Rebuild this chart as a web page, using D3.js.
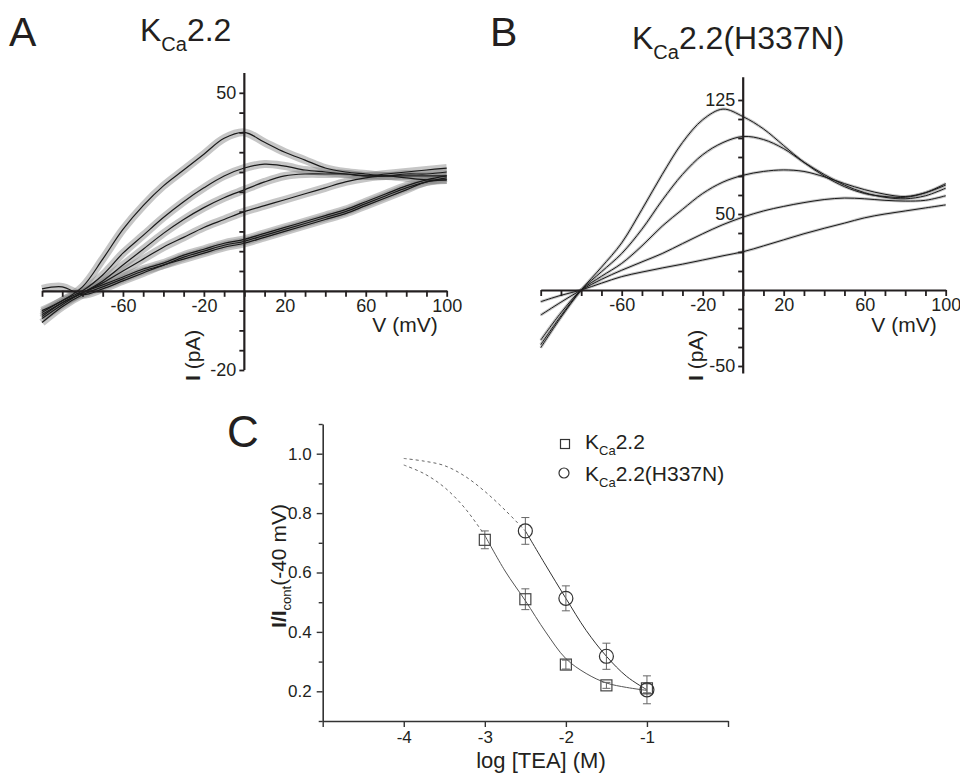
<!DOCTYPE html>
<html><head><meta charset="utf-8">
<script src="https://cdn.jsdelivr.net/npm/d3@7"></script>
<style>body{margin:0;background:#fff;} svg{display:block;font-family:"Liberation Sans",Arial,Helvetica,sans-serif;}</style>
</head><body><svg id="c" width="960" height="773"></svg>
<script>
// ---------- DATA ----------
const voltage = [-100,-90,-80,-70,-60,-50,-40,-30,-20,-10,0,10,20,30,40,50,60,70,80,90,100];

// Panel A: KCa2.2 I-V traces (pA)
const traceA1 = [-5,-2.5,1,8,15.5,21.5,26.5,30.5,34.5,38.5,40,37.5,35,33,31,30,29.5,29,29.5,29.5,30];
const traceA2 = [-5.5,-2.5,0,4,9.5,14,18.5,22.5,26,29,31,32,31.5,30.5,30,29.5,29,29,29,29,29];
const traceA3 = [-6,-3,-0.5,2.5,6.5,10.5,14.5,18,21,23.5,25.5,27.5,29,29.5,29.5,29.5,29,29.5,30,30.5,31];
const traceA4 = [-6.5,-3,-0.5,2,5,8,11,13.5,16,18,20,21.5,23,24.5,26,27.5,28.5,29,28.5,28,28];
const traceA5 = [-7,-3.5,-0.5,1.5,3.5,5.5,7,9,10.5,12,13,14.5,16,17.5,19,20.5,22.5,24.5,26.5,28,29];
const traceA6 = [0.5,1,-1,0.5,2.5,4.5,6.5,8,9.5,11,12,13.5,15,16.5,18,19.5,21.5,23.5,25.5,27.5,28];
const traceA7 = [-8,-4,-1,1,3,5,6.5,8.5,10,11.5,12.5,14,15.5,17,18.5,20,22,24,26,27.5,28.5];

// Panel B: KCa2.2(H337N) I-V traces (pA)
const traceB1 = [-38,-18,0,15,31,53,76,97,112,119,114,106,95,84,75,68,63.5,61.5,61,64,70];
const traceB2 = [-36,-17,0,12,24,40,59,76,89,97,101,99,93,84,76,69,64,61,60,62,67];
const traceB3 = [-33,-15,0,9,17.5,29,42,53,63.5,71,75.5,78,79,78,74.5,70,66,63,61.5,64,69];
const traceB4 = [-16.5,-8,0,7,13,18.5,24,30.5,37,43,48,52,55,57.5,59.5,60.5,60,59,58.5,59,62];
const traceB5 = [-7.7,-3.5,0,4.5,8.8,11.8,14.5,17,19.7,22.5,25.2,29,33,37,40.6,44,47.5,50,52,54,56];

const xTicksIV = [-100,-90,-80,-70,-60,-50,-40,-30,-20,-10,0,10,20,30,40,50,60,70,80,90,100];
const xLabelsIV = [-60,-20,20,60,100];
const yTicksA = [-20,-15,-10,-5,0,5,10,15,20,25,30,35,40,45,50];
const yLabelsA = [50,-20];
const yTicksB = [-50,-37.5,-25,-12.5,0,12.5,25,37.5,50,62.5,75,87.5,100,112.5,125];
const yLabelsB = [125,50,-50];

// Panel C: concentration-response
const logTEA_wt = [-3,-2.5,-2,-1.5,-1];
const rel_wt    = [0.71,0.51,0.29,0.22,0.21];
const err_wt    = [0.03,0.035,0.015,0.01,0.015];
const logTEA_mut = [-2.5,-2,-1.5,-1];
const rel_mut    = [0.74,0.513,0.318,0.205];
const err_mut    = [0.045,0.042,0.044,0.047];
// fitted curves
const fitWtDashX = [-4,-3.75,-3.5,-3.25,-3];
const fitWtDashY = [0.962,0.933,0.887,0.818,0.725];
const fitWtX = [-3,-2.75,-2.5,-2.25,-2,-1.75,-1.5,-1.25,-1];
const fitWtY = [0.725,0.605,0.505,0.4,0.31,0.26,0.228,0.213,0.203];
const fitMutDashX = [-4,-3.75,-3.5,-3.25,-3,-2.75,-2.5];
const fitMutDashY = [0.984,0.975,0.96,0.925,0.873,0.81,0.74];
const fitMutX = [-2.5,-2.25,-2,-1.75,-1.5,-1.25,-1];
const fitMutY = [0.74,0.625,0.513,0.405,0.318,0.25,0.205];
const xTicksC = [-5,-4,-3,-2,-1,0];
const xLabelsC = [-4,-3,-2,-1];
const yTicksC = [0.1,0.2,0.3,0.4,0.5,0.6,0.7,0.8,0.9,1.0,1.1];
const yLabelsC = [0.2,0.4,0.6,0.8,1.0];

// ---------- DRAW ----------
const svg = d3.select("#c");
const ink = "#231f20";

function kca(sel, x, y, size, rest, subSize) {
  const t = sel.append("text").attr("x", x).attr("y", y).attr("font-size", size).attr("fill", ink);
  t.append("tspan").text("K");
  t.append("tspan").attr("font-size", subSize).attr("dy", size * 0.3).text("Ca");
  t.append("tspan").attr("dy", -size * 0.3).text(rest);
  return t;
}

function ivPanel(opt) {
  const x = d3.scaleLinear().domain([-100, 100]).range(opt.xr);
  const y = d3.scaleLinear().domain(opt.yd).range(opt.yr);
  const g = svg.append("g");
  const line = d3.line().x((d, i) => x(voltage[i])).y(d => y(d)).curve(d3.curveCatmullRom.alpha(0.5));
  // noise band
  g.selectAll("path.band").data(opt.traces).join("path")
    .attr("d", line).attr("fill", "none").attr("stroke", "#808080")
    .attr("stroke-width", opt.band).attr("stroke-opacity", opt.bandOp).attr("stroke-linejoin", "round");
  g.selectAll("path.tr").data(opt.traces).join("path")
    .attr("d", line).attr("fill", "none").attr("stroke", "#1a1a1a")
    .attr("stroke-width", opt.lw).attr("stroke-linejoin", "round");

  const xa = g.append("g").attr("transform", `translate(0,${y(0)})`)
    .call(d3.axisBottom(x).tickValues(xTicksIV).tickSize(6).tickSizeOuter(0)
      .tickFormat(d => xLabelsIV.includes(d) ? d : ""));
  const ya = g.append("g").attr("transform", `translate(${x(0)},0)`)
    .call(d3.axisLeft(y).tickValues(opt.yTicks).tickSize(5).tickSizeOuter(0)
      .tickFormat(d => opt.yLabels.includes(d) ? d : ""));
  ya.select(".domain").attr("d", `M0,${opt.yr[0]}V${opt.yr[1]}`);
  [xa, ya].forEach(a => {
    a.attr("font-family", null).attr("font-size", null);
    a.select(".domain").attr("stroke", ink).attr("stroke-width", 2.2);
    a.selectAll(".tick line").attr("stroke", ink).attr("stroke-width", 1.8);
    a.selectAll(".tick text").attr("font-size", 18).attr("fill", ink);
  });
  ya.selectAll(".tick").filter(d => d === 0).remove();
  ya.selectAll(".tick text").attr("x", -8);
  xa.selectAll(".tick text").attr("y", 8);
  // axis titles
  g.append("text").attr("x", opt.xr[1] - 9).attr("y", 332).attr("text-anchor", "end")
    .attr("font-size", 21).attr("fill", ink).text("V (mV)");
  const yl = g.append("text").attr("transform", `translate(${opt.ylx},381) rotate(-90)`)
    .attr("font-size", 21).attr("fill", ink);
  yl.append("tspan").attr("font-weight", "bold").text("I");
  yl.append("tspan").text(" (pA)");
}

// Panel A
svg.append("text").attr("x", 9).attr("y", 46).attr("font-size", 41).attr("fill", ink).text("A");
kca(svg, 140, 41, 32, "2.2", 20);
ivPanel({xr: [42, 446.7], yd: [-20, 55], yr: [370, 73],
  traces: [traceA1, traceA2, traceA3, traceA4, traceA5, traceA6, traceA7],
  yTicks: yTicksA, yLabels: yLabelsA, band: 8, bandOp: 0.45, lw: 1.2, ylx: 200});

// Panel B
svg.append("text").attr("x", 490).attr("y", 46).attr("font-size", 41).attr("fill", ink).text("B");
kca(svg, 632, 49, 32, "2.2(H337N)", 20);
ivPanel({xr: [540.7, 945.7], yd: [-55, 140], yr: [373.6, 77.2],
  traces: [traceB1, traceB2, traceB3, traceB4, traceB5],
  yTicks: yTicksB, yLabels: yLabelsB, band: 3, bandOp: 0.45, lw: 1.0, ylx: 703});

// Panel C
svg.append("text").attr("x", 227).attr("y", 447).attr("font-size", 44).attr("fill", ink).text("C");
const xc = d3.scaleLinear().domain([-5, 0]).range([322.7, 728]);
const yc = d3.scaleLinear().domain([0.1, 1.1]).range([721, 424]);
const gc = svg.append("g");
const cx = gc.append("g").attr("transform", `translate(0,${yc(0.1)})`)
  .call(d3.axisBottom(xc).tickValues(xTicksC).tickSize(6).tickSizeOuter(0)
    .tickFormat(d => xLabelsC.includes(d) ? d : ""));
const cy = gc.append("g").attr("transform", `translate(${xc(-5)},0)`)
  .call(d3.axisLeft(yc).tickValues(yTicksC).tickSize(4).tickSizeOuter(0)
    .tickFormat(d => yLabelsC.some(v => Math.abs(v - d) < 1e-9) ? d3.format(".1f")(d) : ""));
[cx, cy].forEach(a => {
  a.attr("font-family", null).attr("font-size", null);
  a.select(".domain").attr("stroke", "#333").attr("stroke-width", 1.6);
  a.selectAll(".tick line").attr("stroke", "#333").attr("stroke-width", 1.4);
  a.selectAll(".tick text").attr("font-size", 17).attr("fill", ink);
});
cy.selectAll(".tick line").filter(d => yLabelsC.some(v => Math.abs(v - d) < 1e-9)).attr("x2", -6);
cy.selectAll(".tick text").attr("x", -11);
cx.selectAll(".tick text").attr("y", 10);

gc.append("text").attr("x", 541).attr("y", 768).attr("text-anchor", "middle")
  .attr("font-size", 22).attr("fill", ink).text("log [TEA] (M)");
const ylc = gc.append("text").attr("transform", "translate(286,566) rotate(-90)")
  .attr("text-anchor", "middle").attr("font-size", 21).attr("fill", ink);
ylc.append("tspan").attr("font-weight", "bold").text("I/I");
ylc.append("tspan").attr("font-size", 13).attr("dy", 5).text("cont");
ylc.append("tspan").attr("dy", -5).text("(-40 mV)");

const lineC = (xs) => d3.line().x((d, i) => xc(xs[i])).y(d => yc(d)).curve(d3.curveCatmullRom.alpha(0.5));
gc.append("path").attr("d", lineC(fitWtDashX)(fitWtDashY)).attr("fill", "none")
  .attr("stroke", "#666").attr("stroke-width", 1).attr("stroke-dasharray", "3,3");
gc.append("path").attr("d", lineC(fitMutDashX)(fitMutDashY)).attr("fill", "none")
  .attr("stroke", "#666").attr("stroke-width", 1).attr("stroke-dasharray", "3,3");
gc.append("path").attr("d", lineC(fitWtX)(fitWtY)).attr("fill", "none")
  .attr("stroke", "#555").attr("stroke-width", 1);
gc.append("path").attr("d", lineC(fitMutX)(fitMutY)).attr("fill", "none")
  .attr("stroke", "#333").attr("stroke-width", 1);

function errBars(xs, ys, es) {
  xs.forEach((xv, i) => {
    const px = xc(xv), top = yc(ys[i] + es[i]), bot = yc(ys[i] - es[i]);
    gc.append("path").attr("d", `M${px},${top}V${bot}M${px-4},${top}H${px+4}M${px-4},${bot}H${px+4}`)
      .attr("stroke", "#666").attr("stroke-width", 1).attr("fill", "none");
  });
}
errBars(logTEA_wt, rel_wt, err_wt);
errBars(logTEA_mut, rel_mut, err_mut);
gc.selectAll("rect.sq").data(rel_wt).join("rect")
  .attr("x", (d, i) => xc(logTEA_wt[i]) - 5.5).attr("y", d => yc(d) - 5.5)
  .attr("width", 11).attr("height", 11).attr("fill", "none").attr("stroke", "#444").attr("stroke-width", 1.2);
gc.selectAll("circle.ci").data(rel_mut).join("circle")
  .attr("cx", (d, i) => xc(logTEA_mut[i])).attr("cy", d => yc(d)).attr("r", 7)
  .attr("fill", "none").attr("stroke", "#333").attr("stroke-width", 1.2);

// Legend
gc.append("rect").attr("x", 560.5).attr("y", 439.5).attr("width", 9).attr("height", 9)
  .attr("fill", "none").attr("stroke", "#333").attr("stroke-width", 1.2);
gc.append("circle").attr("cx", 564).attr("cy", 473).attr("r", 5)
  .attr("fill", "none").attr("stroke", "#333").attr("stroke-width", 1.2);
kca(gc, 585, 449, 21, "2.2", 13);
kca(gc, 585, 481, 21, "2.2(H337N)", 13);
</script></body></html>
